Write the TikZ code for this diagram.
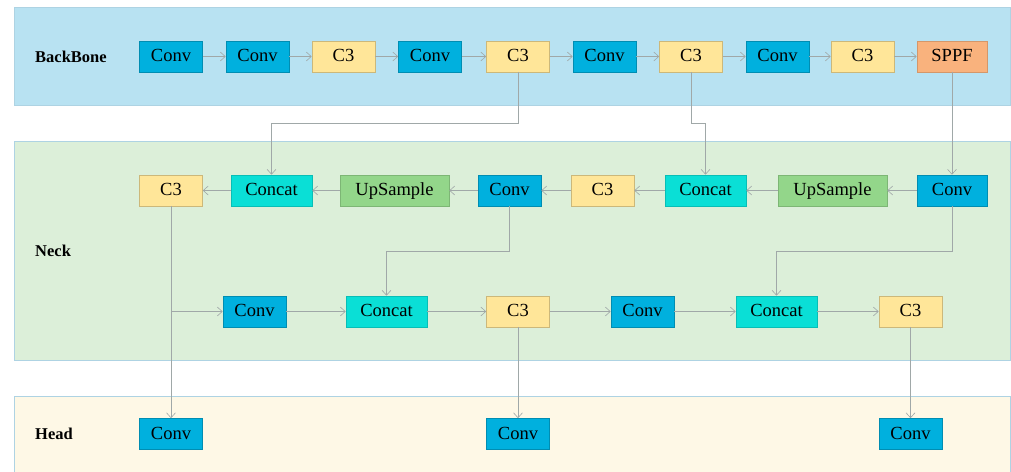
\documentclass[tikz,border=0pt]{standalone}
\usepackage{fontspec}
\setmainfont{Liberation Serif}
\usetikzlibrary{arrows.meta}

\definecolor{bbcol}{HTML}{B8E2F2}
\definecolor{neckcol}{HTML}{DCEFD9}
\definecolor{headcol}{HTML}{FEF8E6}
\definecolor{framecol}{HTML}{AED3E3}
\definecolor{convcol}{HTML}{00B0DE}
\definecolor{cthreecol}{HTML}{FFE699}
\definecolor{sppfcol}{HTML}{F9B27D}
\definecolor{catcol}{HTML}{0ADFD6}
\definecolor{upcol}{HTML}{93D68A}
\definecolor{linecol}{HTML}{A0A8A8}

\tikzset{
  blk/.style={minimum height=31pt, inner sep=0pt, line width=.6pt,
    text height=12.5pt, text depth=2pt,
    font=\fontsize{18.5}{20}\selectfont},
  convbox/.style={blk, fill=convcol, draw=convcol!80!black, minimum width=63pt},
  convwide/.style={convbox, minimum width=70pt},
  cthreebox/.style={blk, fill=cthreecol, draw=cthreecol!80!black, minimum width=63pt},
  sppfbox/.style={blk, fill=sppfcol, draw=sppfcol!85!black, minimum width=70pt},
  catbox/.style={blk, fill=catcol, draw=catcol!85!black, minimum width=81pt},
  upbox/.style={blk, fill=upcol, draw=upcol!85!black, minimum width=109pt},
  arr/.style={draw=linecol, line width=.6pt, -{Straight Barb[length=5pt,width=9pt]}},
  partlabel/.style={anchor=west, inner sep=0pt, font=\fontsize{16.5}{18}\selectfont\bfseries}
}

\begin{document}
\begin{tikzpicture}[x=1pt, y=-1pt]
  \useasboundingbox (0,0) rectangle (1011,471);

  % panels
  \begin{scope}[draw=framecol, line width=.6pt]
    \filldraw[fill=bbcol] (14,7) rectangle (1010,105);
    \filldraw[fill=neckcol] (14,141) rectangle (1010,360);
    \filldraw[fill=headcol] (14,396) rectangle (1010,475);
  \end{scope}

  \node[partlabel] (lbb) at (35,56.5) {BackBone};
  \node[partlabel] (lneck) at (35,251) {Neck};
  \node[partlabel] (lhead) at (35,434) {Head};

  % backbone
  \foreach \x/\t/\s [count=\i] in {171/Conv/convbox, 257.5/Conv/convbox,
      343.5/C3/cthreebox, 430/Conv/convbox, 518/C3/cthreebox, 604.5/Conv/convbox,
      691/C3/cthreebox, 777.5/Conv/convbox, 862.5/C3/cthreebox, 952/SPPF/sppfbox}
    \node[\s] (b\i) at (\x,56.5) {\t};

  \foreach \i [count=\j from 2] in {1,...,9}
    \draw[arr] (b\i) -- (b\j);

  % neck, upper row
  \foreach \x/\t/\s [count=\i] in {171/C3/cthreebox, 271.5/Concat/catbox,
      394.5/UpSample/upbox, 509.5/Conv/convbox, 602.5/C3/cthreebox,
      705.5/Concat/catbox, 832.5/UpSample/upbox, 952/Conv/convwide}
    \node[\s] (n\i) at (\x,190.5) {\t};

  \foreach \i [count=\j from 2] in {1,...,7}
    \draw[arr] (n\j) -- (n\i);

  % neck, lower row
  \foreach \x/\t/\s [count=\i] in {254.5/Conv/convbox, 386.5/Concat/catbox,
      518/C3/cthreebox, 642.5/Conv/convbox, 776.5/Concat/catbox, 910.5/C3/cthreebox}
    \node[\s] (m\i) at (\x,311.5) {\t};

  \foreach \i [count=\j from 2] in {1,...,5}
    \draw[arr] (m\i) -- (m\j);

  % head
  \node[convbox] (h1) at (171,434) {Conv};
  \node[convbox] (h2) at (518,434) {Conv};
  \node[convbox] (h3) at (910.5,434) {Conv};

  % links between rows
  \draw[arr] (b5.south) -- ++(0,51) -| (n2.north);
  \draw[arr] (b7.south) -- ++(0,51) -| (n6.north);
  \draw[arr] (b10) -- (n8);
  \draw[arr] (n4.south) -- ++(0,45) -| (m2.north);
  \draw[arr] (n8.south) -- ++(0,45) -| (m5.north);
  \draw[arr] (n1) -- (h1);
  \draw[arr] (n1.south |- m1) -- (m1.west);
  \draw[arr] (m3) -- (h2);
  \draw[arr] (m6) -- (h3);
\end{tikzpicture}
\end{document}
